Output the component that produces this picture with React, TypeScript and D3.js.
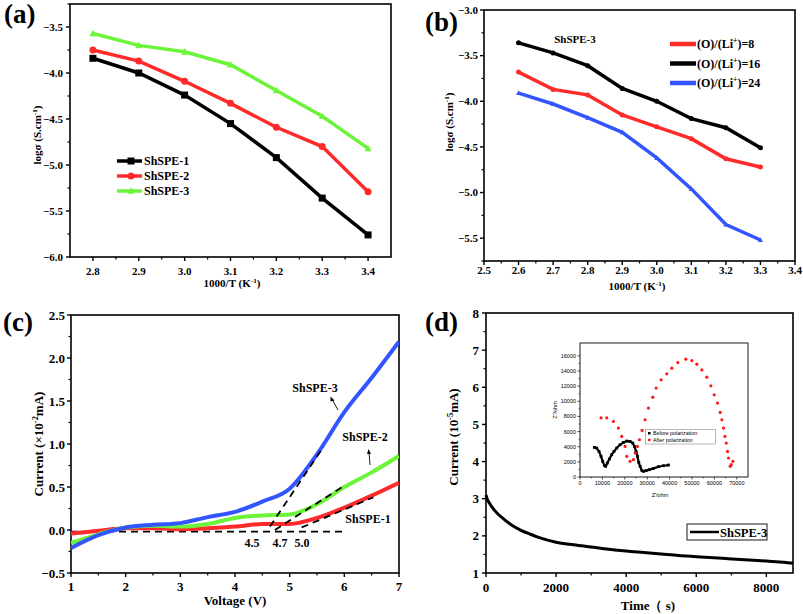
import React from "react";
import * as d3 from "d3";

// ---------- Data ----------
const aX = [2.8, 2.9, 3.0, 3.1, 3.2, 3.3, 3.4];
const aShSPE1 = [-3.84, -4.0, -4.24, -4.55, -4.92, -5.36, -5.76];
const aShSPE2 = [-3.75, -3.87, -4.09, -4.33, -4.59, -4.8, -5.29];
const aShSPE3 = [-3.57, -3.7, -3.77, -3.91, -4.19, -4.47, -4.82];

const bX = [2.6, 2.7, 2.8, 2.9, 3.0, 3.1, 3.2, 3.3];
const bRatio8 = [-3.68, -3.87, -3.93, -4.15, -4.28, -4.41, -4.63, -4.72];
const bRatio16 = [-3.36, -3.47, -3.61, -3.86, -4.0, -4.19, -4.29, -4.51];
const bRatio24 = [-3.91, -4.03, -4.18, -4.34, -4.62, -4.96, -5.35, -5.52];

const cV = [1, 1.5, 2, 2.5, 3, 3.5, 4, 4.5, 5, 5.5, 6, 6.5, 7];
const cShSPE3 = [-0.21, -0.06, 0.03, 0.06, 0.08, 0.15, 0.21, 0.33, 0.48, 0.88, 1.37, 1.77, 2.19];
const cShSPE2 = [-0.15, -0.05, 0.03, 0.05, 0.04, 0.07, 0.14, 0.17, 0.18, 0.3, 0.5, 0.67, 0.86];
const cShSPE1 = [-0.04, -0.01, 0.02, 0.02, 0.01, 0.02, 0.04, 0.07, 0.07, 0.14, 0.26, 0.4, 0.55];
const cBaseline: [number, number][] = [[1, -0.02], [6.05, -0.02]];
const cTangent3: [number, number][] = [[4.64, 0.04], [5.62, 0.97]];
const cTangent2: [number, number][] = [[4.73, 0.0], [6.01, 0.52]];
const cTangent1: [number, number][] = [[5.22, 0.03], [6.53, 0.38]];

const dTime = [0, 30, 100, 250, 500, 750, 1000, 1250, 1500, 2000, 2500, 3000, 3500, 4000, 4500, 5000, 5500, 6000, 6500, 7000, 7500, 8000, 8500, 8760];
const dCurrent = [3.1, 3.0, 2.88, 2.68, 2.46, 2.28, 2.15, 2.05, 1.96, 1.83, 1.76, 1.7, 1.64, 1.59, 1.55, 1.51, 1.47, 1.44, 1.41, 1.38, 1.35, 1.32, 1.29, 1.26];

const insetBeforeX = [6410, 7450, 8490, 9390, 10130, 10880, 11480, 12220, 13110, 14160, 15200, 16390, 17880, 19370, 20860, 22350, 23550, 24290, 25040, 25630, 26230, 26830, 27570, 28320, 29510, 31000, 32790, 35020, 37260, 39490];
const insetBeforeY = [3910, 3820, 3380, 2730, 2070, 1540, 1410, 1850, 2370, 2950, 3380, 3820, 4260, 4570, 4750, 4700, 4480, 4040, 3380, 2730, 1930, 1410, 880, 750, 840, 970, 1140, 1360, 1490, 1580];
const insetAfterX = [9390, 11920, 14900, 17140, 18630, 20120, 20860, 22350, 23850, 24590, 25630, 26530, 27720, 29060, 30550, 32490, 33980, 36210, 38750, 40980, 43670, 47240, 49930, 52160, 54400, 56630, 58420, 59910, 61400, 62590, 63340, 64080, 64700, 65280, 65870, 66320, 67060, 67510, 68260];
const insetAfterY = [7820, 7820, 7340, 6460, 5360, 4040, 2730, 2070, 2290, 3160, 4040, 4920, 6150, 7560, 9100, 10550, 11740, 12840, 13630, 14370, 15120, 15560, 15380, 14900, 14150, 13190, 12040, 10860, 9760, 8530, 7560, 6460, 5360, 4480, 3380, 2510, 1410, 1630, 2070];

const aXTicks = [2.8, 2.9, 3.0, 3.1, 3.2, 3.3, 3.4];
const aYTicks = [-6.0, -5.5, -5.0, -4.5, -4.0, -3.5];
const bXTicks = [2.5, 2.6, 2.7, 2.8, 2.9, 3.0, 3.1, 3.2, 3.3, 3.4];
const bYTicks = [-5.5, -5.0, -4.5, -4.0, -3.5, -3.0];
const cXTicks = [1, 2, 3, 4, 5, 6, 7];
const cYTicks = [-0.5, 0.0, 0.5, 1.0, 1.5, 2.0, 2.5];
const dXTicks = [0, 2000, 4000, 6000, 8000];
const dYTicks = [1, 2, 3, 4, 5, 6, 7, 8];
const insetXTicks = [0, 10000, 20000, 30000, 40000, 50000, 60000, 70000];
const insetYTicks = [0, 2000, 4000, 6000, 8000, 10000, 12000, 14000, 16000];

const SERIF = "'Liberation Serif', 'Times New Roman', serif";
const SANS = "'Liberation Sans', Arial, sans-serif";
const RED = "#ff2a2a";
const GREEN = "#6cf43a";
const BLUE = "#3355ff";

type Lin = d3.ScaleLinear<number, number>;

function Frame(props: {
  x: Lin; y: Lin; xTicks: number[]; yTicks: number[]; xMinor: number[]; yMinor: number[];
  xFmt: (v: number) => string; yFmt: (v: number) => string; fontSize: number; xLabOff: number; yLabOff: number;
}) {
  const { x, y, xTicks, yTicks, xMinor, yMinor, xFmt, yFmt, fontSize, xLabOff, yLabOff } = props;
  const [x0, x1] = x.range();
  const [y0, y1] = y.range();
  return (
    <g>
      <rect x={x0} y={y1} width={x1 - x0} height={y0 - y1} fill="none" stroke="#000" strokeWidth={1.6} />
      {xTicks.map((t) => (
        <g key={"xt" + t}>
          <line x1={x(t)} x2={x(t)} y1={y0} y2={y0 + 4} stroke="#000" strokeWidth={1.4} />
          <text x={x(t)} y={y0 + xLabOff} textAnchor="middle" fontFamily={SERIF} fontWeight="bold" fontSize={fontSize}>{xFmt(t)}</text>
        </g>
      ))}
      {xMinor.map((t) => (
        <line key={"xm" + t} x1={x(t)} x2={x(t)} y1={y0} y2={y0 + 2.5} stroke="#000" strokeWidth={1.2} />
      ))}
      {yTicks.map((t) => (
        <g key={"yt" + t}>
          <line x1={x0} x2={x0 - 4} y1={y(t)} y2={y(t)} stroke="#000" strokeWidth={1.4} />
          <text x={x0 - yLabOff} y={y(t) + fontSize * 0.35} textAnchor="end" fontFamily={SERIF} fontWeight="bold" fontSize={fontSize}>{yFmt(t)}</text>
        </g>
      ))}
      {yMinor.map((t) => (
        <line key={"ym" + t} x1={x0} x2={x0 - 2.5} y1={y(t)} y2={y(t)} stroke="#000" strokeWidth={1.2} />
      ))}
    </g>
  );
}

function Marker(props: { shape: string; cx: number; cy: number; size: number; color: string }) {
  const { shape, cx, cy, size, color } = props;
  if (shape === "square") return <rect x={cx - size / 2} y={cy - size / 2} width={size} height={size} fill={color} />;
  if (shape === "circle") return <circle cx={cx} cy={cy} r={size / 2} fill={color} />;
  const h = size * 0.9;
  return <path d={`M${cx},${cy - h * 0.6}L${cx + size / 2},${cy + h * 0.45}L${cx - size / 2},${cy + h * 0.45}Z`} fill={color} />;
}

const fmt1 = d3.format(".1f");
const fmt0 = d3.format("d");
const mid = (arr: number[], step: number) => arr.slice(0, -1).map((v) => v + step);

export default function App() {
  // Panel a
  const ax = d3.scaleLinear().domain([2.75, 3.45]).range([70, 391]);
  const ay = d3.scaleLinear().domain([-6.0, -3.25]).range([257, 4]);
  const aLine = d3.line<[number, number]>().x((d) => ax(d[0])).y((d) => ay(d[1]));
  const aSeries = [
    { name: "ShSPE-1", vals: aShSPE1, color: "#000", shape: "square" },
    { name: "ShSPE-2", vals: aShSPE2, color: RED, shape: "circle" },
    { name: "ShSPE-3", vals: aShSPE3, color: GREEN, shape: "triangle" },
  ];

  // Panel b
  const bx = d3.scaleLinear().domain([2.5, 3.4]).range([484, 795]);
  const by = d3.scaleLinear().domain([-5.75, -3.0]).range([261, 10]);
  const bLine = d3.line<[number, number]>().x((d) => bx(d[0])).y((d) => by(d[1]));
  const bSeries = [
    { name: "8", vals: bRatio8, color: RED, shape: "circle" },
    { name: "16", vals: bRatio16, color: "#000", shape: "circle" },
    { name: "24", vals: bRatio24, color: BLUE, shape: "triangle" },
  ];

  // Panel c
  const cx = d3.scaleLinear().domain([1, 7]).range([71, 399]);
  const cy = d3.scaleLinear().domain([-0.5, 2.5]).range([573, 315]);
  const cCurve = d3.line<[number, number]>().x((d) => cx(d[0])).y((d) => cy(d[1])).curve(d3.curveMonotoneX);
  const cStraight = d3.line<[number, number]>().x((d) => cx(d[0])).y((d) => cy(d[1]));

  // Panel d
  const dx = d3.scaleLinear().domain([0, 8760]).range([486, 793]);
  const dy = d3.scaleLinear().domain([1, 8]).range([573, 313]);
  const dLine = d3.line<[number, number]>().x((d) => dx(d[0])).y((d) => dy(d[1])).curve(d3.curveMonotoneX);

  // Inset
  const ix = d3.scaleLinear().domain([0, 75000]).range([580, 748]);
  const iy = d3.scaleLinear().domain([0, 17700]).range([477, 343]);
  const iLine = d3.line<[number, number]>().x((d) => ix(d[0])).y((d) => iy(d[1]));

  const sup = (s: string, fs: number) => (
    <tspan dy={-fs * 0.38} fontSize={fs * 0.65}>{s}</tspan>
  );

  return (
    <svg width={803} height={614} style={{ position: "absolute", left: 0, top: 0, background: "#fff" }}>
      <rect x={0} y={0} width={803} height={614} fill="#fff" />

      {/* ---------- (a) ---------- */}
      <Frame x={ax} y={ay} xTicks={aXTicks} yTicks={aYTicks} xMinor={mid(aXTicks, 0.05)} yMinor={[...mid(aYTicks, 0.25), -3.25]}
        xFmt={fmt1} yFmt={fmt1} fontSize={11} xLabOff={18} yLabOff={7} />
      {aSeries.map((s) => (
        <g key={s.name}>
          <path d={aLine(aX.map((v, i) => [v, s.vals[i]]) as [number, number][]) || ""} fill="none" stroke={s.color} strokeWidth={3.5} />
          {aX.map((v, i) => <Marker key={i} shape={s.shape} cx={ax(v)} cy={ay(s.vals[i])} size={7} color={s.color} />)}
        </g>
      ))}
      {aSeries.map((s, i) => (
        <g key={"lg" + s.name}>
          <line x1={117} x2={142} y1={161 + i * 15} y2={161 + i * 15} stroke={s.color} strokeWidth={3.5} />
          <Marker shape={s.shape} cx={131} cy={161 + i * 15} size={7} color={s.color} />
          <text x={144} y={165 + i * 15} fontFamily={SERIF} fontWeight="bold" fontSize={12}>{s.name}</text>
        </g>
      ))}
      <text x={232} y={287} textAnchor="middle" fontFamily={SERIF} fontWeight="bold" fontSize={11}>1000/T (K{sup("-1", 11)}<tspan dy={11 * 0.38}>)</tspan></text>
      <text transform="translate(41,135) rotate(-90)" textAnchor="middle" fontFamily={SERIF} fontWeight="bold" fontSize={11}>logσ (S.cm{sup("-1", 11)}<tspan dy={11 * 0.38}>)</tspan></text>
      <text x={4} y={23} fontFamily={SERIF} fontWeight="bold" fontSize={27}>(a)</text>

      {/* ---------- (b) ---------- */}
      <Frame x={bx} y={by} xTicks={bXTicks} yTicks={bYTicks} xMinor={mid(bXTicks, 0.05)} yMinor={[-5.75, ...mid(bYTicks, 0.25)]}
        xFmt={fmt1} yFmt={fmt1} fontSize={11} xLabOff={13} yLabOff={6} />
      {bSeries.map((s) => (
        <g key={s.name}>
          <path d={bLine(bX.map((v, i) => [v, s.vals[i]]) as [number, number][]) || ""} fill="none" stroke={s.color} strokeWidth={3.5} />
          {bX.map((v, i) => <Marker key={i} shape={s.shape} cx={bx(v)} cy={by(s.vals[i])} size={5} color={s.color} />)}
        </g>
      ))}
      <text x={575} y={43} textAnchor="middle" fontFamily={SERIF} fontWeight="bold" fontSize={11}>ShSPE-3</text>
      {bSeries.map((s, i) => (
        <g key={"lgb" + s.name}>
          <line x1={670} x2={696} y1={44 + i * 19.5} y2={44 + i * 19.5} stroke={s.color} strokeWidth={4.5} />
          <text x={697} y={48 + i * 19.5} fontFamily={SERIF} fontWeight="bold" fontSize={12}>(O)/(Li{sup("+", 12)}<tspan dy={12 * 0.38}>)={s.name}</tspan></text>
        </g>
      ))}
      <text x={637} y={290} textAnchor="middle" fontFamily={SERIF} fontWeight="bold" fontSize={11}>1000/T (K{sup("-1", 11)}<tspan dy={11 * 0.38}>)</tspan></text>
      <text transform="translate(453,122) rotate(-90)" textAnchor="middle" fontFamily={SERIF} fontWeight="bold" fontSize={11}>logσ (S.cm{sup("-1", 11)}<tspan dy={11 * 0.38}>)</tspan></text>
      <text x={425} y={31} fontFamily={SERIF} fontWeight="bold" fontSize={27}>(b)</text>

      {/* ---------- (c) ---------- */}
      <Frame x={cx} y={cy} xTicks={cXTicks} yTicks={cYTicks} xMinor={mid(cXTicks, 0.5)} yMinor={mid(cYTicks, 0.25)}
        xFmt={fmt0} yFmt={fmt1} fontSize={13} xLabOff={18} yLabOff={6} />
      <defs>
        <clipPath id="clipC"><rect x={71} y={315} width={328} height={258} /></clipPath>
      </defs>
      <g clipPath="url(#clipC)">
        <path d={cStraight(cBaseline) || ""} fill="none" stroke="#000" strokeWidth={1.8} strokeDasharray="7,5" />
        <path d={cCurve(cV.map((v, i) => [v, cShSPE1[i]]) as [number, number][]) || ""} fill="none" stroke={RED} strokeWidth={4} />
        <path d={cCurve(cV.map((v, i) => [v, cShSPE2[i]]) as [number, number][]) || ""} fill="none" stroke={GREEN} strokeWidth={4} />
        <path d={cCurve(cV.map((v, i) => [v, cShSPE3[i]]) as [number, number][]) || ""} fill="none" stroke={BLUE} strokeWidth={4} />
        {[cTangent3, cTangent2, cTangent1].map((t, i) => (
          <path key={i} d={cStraight(t) || ""} fill="none" stroke="#000" strokeWidth={1.8} strokeDasharray="7,5" />
        ))}
      </g>
      <text x={315} y={392} textAnchor="middle" fontFamily={SERIF} fontWeight="bold" fontSize={12}>ShSPE-3</text>
      <line x1={338} y1={410} x2={332} y2={399} stroke="#000" strokeWidth={0.9} />
      <path d="M330.5,396.5 L334.5,400.5 L330.5,401.5 Z" fill="#000" />
      <text x={365} y={441} textAnchor="middle" fontFamily={SERIF} fontWeight="bold" fontSize={12}>ShSPE-2</text>
      <line x1={370} y1={465} x2={369} y2={452} stroke="#000" strokeWidth={0.9} />
      <path d="M368.5,449 L371,454 L367,454 Z" fill="#000" />
      <text x={368} y={523} textAnchor="middle" fontFamily={SERIF} fontWeight="bold" fontSize={12}>ShSPE-1</text>
      <text x={252} y={547} textAnchor="middle" fontFamily={SERIF} fontWeight="bold" fontSize={12}>4.5</text>
      <text x={280} y={547} textAnchor="middle" fontFamily={SERIF} fontWeight="bold" fontSize={12}>4.7</text>
      <text x={302} y={547} textAnchor="middle" fontFamily={SERIF} fontWeight="bold" fontSize={12}>5.0</text>
      <text x={235} y={605} textAnchor="middle" fontFamily={SERIF} fontWeight="bold" fontSize={13}>Voltage (V)</text>
      <text transform="translate(43,444) rotate(-90)" textAnchor="middle" fontFamily={SERIF} fontWeight="bold" fontSize={13}>Current (×10{sup("-2", 13)}<tspan dy={13 * 0.38}>mA)</tspan></text>
      <text x={3} y={331} fontFamily={SERIF} fontWeight="bold" fontSize={27}>(c)</text>

      {/* ---------- (d) ---------- */}
      <Frame x={dx} y={dy} xTicks={dXTicks} yTicks={dYTicks} xMinor={[1000, 3000, 5000, 7000]} yMinor={mid(dYTicks, 0.5)}
        xFmt={fmt0} yFmt={fmt0} fontSize={13} xLabOff={19} yLabOff={7} />
      <path d={dLine(dTime.map((t, i) => [t, dCurrent[i]]) as [number, number][]) || ""} fill="none" stroke="#000" strokeWidth={3} />
      <rect x={687} y={524} width={80} height={16} fill="#fff" stroke="#000" strokeWidth={0.9} />
      <line x1={690} x2={719} y1={532} y2={532} stroke="#000" strokeWidth={2.5} />
      <text x={720} y={536.5} fontFamily={SERIF} fontWeight="bold" fontSize={12.5}>ShSPE-3</text>
      <text x={648} y={610} textAnchor="middle" fontFamily={SERIF} fontWeight="bold" fontSize={13}>Time（ s)</text>
      <text transform="translate(458,437) rotate(-90)" textAnchor="middle" fontFamily={SERIF} fontWeight="bold" fontSize={13}>Current (10{sup("-5", 13)}<tspan dy={13 * 0.38}>mA)</tspan></text>
      <text x={425} y={331} fontFamily={SERIF} fontWeight="bold" fontSize={27}>(d)</text>

      {/* ---------- inset ---------- */}
      <rect x={580} y={343} width={168} height={134} fill="none" stroke="#000" strokeWidth={0.9} />
      {insetXTicks.map((t) => (
        <g key={"ixt" + t}>
          <line x1={ix(t)} x2={ix(t)} y1={477} y2={479.5} stroke="#000" strokeWidth={0.7} />
          <text x={ix(t)} y={485} textAnchor="middle" fontFamily={SANS} fontSize={5.5}>{t}</text>
        </g>
      ))}
      {mid(insetXTicks, 5000).map((t) => (
        <line key={"ixm" + t} x1={ix(t)} x2={ix(t)} y1={477} y2={478.5} stroke="#000" strokeWidth={0.6} />
      ))}
      {insetYTicks.map((t) => (
        <g key={"iyt" + t}>
          <line x1={580} x2={577.5} y1={iy(t)} y2={iy(t)} stroke="#000" strokeWidth={0.7} />
          <text x={576} y={iy(t) + 2} textAnchor="end" fontFamily={SANS} fontSize={5.5}>{t}</text>
        </g>
      ))}
      {mid(insetYTicks, 1000).map((t) => (
        <line key={"iym" + t} x1={580} x2={578.5} y1={iy(t)} y2={iy(t)} stroke="#000" strokeWidth={0.6} />
      ))}
      <text x={660} y={497} textAnchor="middle" fontFamily={SANS} fontSize={5.5}>Z'/ohm</text>
      <text transform="translate(557,410) rotate(-90)" textAnchor="middle" fontFamily={SANS} fontSize={5.5}>Z''/ohm</text>
      <path d={iLine(insetBeforeX.map((v, i) => [v, insetBeforeY[i]]) as [number, number][]) || ""} fill="none" stroke="#000" strokeWidth={2.2} />
      {insetBeforeX.map((v, i) => (
        <rect key={"ib" + i} x={ix(v) - 1.4} y={iy(insetBeforeY[i]) - 1.4} width={2.8} height={2.8} fill="#000" />
      ))}
      {insetAfterX.map((v, i) => (
        <circle key={"ia" + i} cx={ix(v)} cy={iy(insetAfterY[i])} r={1.6} fill="#ff1a1a" />
      ))}
      <rect x={645.5} y={429.5} width={70} height={14.5} fill="#fff" stroke="#888" strokeWidth={0.6} />
      <rect x={648} y={432} width={2.5} height={2.5} fill="#000" />
      <text x={653} y={435} fontFamily={SANS} fontSize={5.3}>Before polarization</text>
      <circle cx={649.3} cy={440} r={1.4} fill="#ff1a1a" />
      <text x={653} y={442} fontFamily={SANS} fontSize={5.3}>After polarization</text>
    </svg>
  );
}
